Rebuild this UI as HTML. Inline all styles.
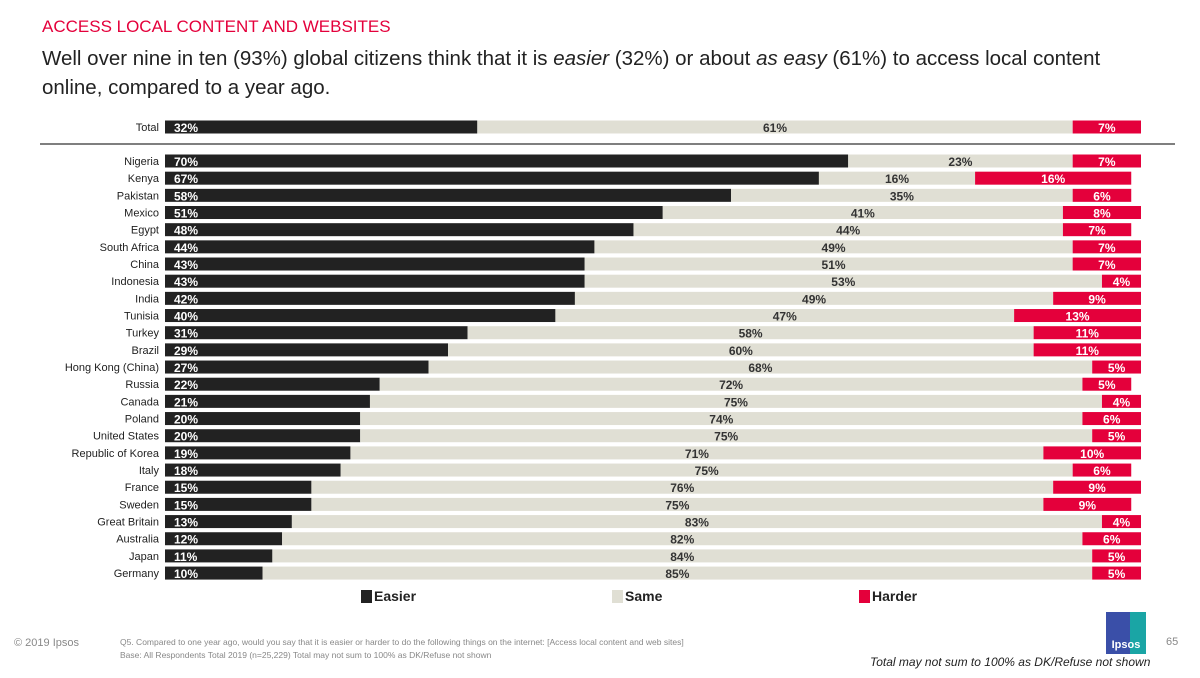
<!DOCTYPE html>
<html><head><meta charset="utf-8"><style>
body{margin:0;width:1200px;height:675px;background:#fff;overflow:hidden;font-family:"Liberation Sans",sans-serif;position:relative}
.abs{position:absolute}
</style></head><body>
<div class="abs" style="left:42px;top:17px;font-size:17px;color:#e4003b">ACCESS LOCAL CONTENT AND WEBSITES</div>
<div class="abs" style="left:42px;top:44px;width:1120px;font-size:20.5px;line-height:29px;color:#222">Well over nine in ten (93%) global citizens think that it is <i>easier</i> (32%) or about <i>as easy</i> (61%) to access local content online, compared to a year ago.</div>
<svg class="abs" style="left:0;top:0" width="1200" height="675" id="chart">
<line x1="40" y1="144" x2="1175" y2="144" stroke="#333" stroke-width="1.2"/>
</svg>
<div class="abs" style="left:14px;top:637px;font-size:11px;color:#888">© 2019 Ipsos</div>
<div class="abs" style="left:120px;top:636px;font-size:8.5px;line-height:13px;color:#888">Q5. Compared to one year ago, would you say that it is easier or harder to do the following things on the internet: [Access local content and web sites]<br>Base: All Respondents Total 2019 (n=25,229) Total may not sum to 100% as DK/Refuse not shown</div>
<div class="abs" style="left:1106px;top:612px;width:40px;height:42px;background:linear-gradient(90deg,#3a4fa8 60%,#1aa5a5 60%);color:#fff;font-size:11px;font-weight:bold;text-align:center;line-height:66px">Ipsos</div>
<div class="abs" style="left:1166px;top:636px;font-size:11px;color:#888">65</div>
<div class="abs" style="left:870px;top:655px;font-size:12px;font-style:italic;color:#222">Total may not sum to 100% as DK/Refuse not shown</div>
<script>
const categories=["Total","Nigeria","Kenya","Pakistan","Mexico","Egypt","South Africa","China","Indonesia","India","Tunisia","Turkey","Brazil","Hong Kong (China)","Russia","Canada","Poland","United States","Republic of Korea","Italy","France","Sweden","Great Britain","Australia","Japan","Germany"];
const easier=[32,70,67,58,51,48,44,43,43,42,40,31,29,27,22,21,20,20,19,18,15,15,13,12,11,10];
const same=[61,23,16,35,41,44,49,51,53,49,47,58,60,68,72,75,74,75,71,75,76,75,83,82,84,85];
const harder=[7,7,16,6,8,7,7,7,4,9,13,11,11,5,5,4,6,5,10,6,9,9,4,6,5,5];
const svg=document.getElementById('chart');
const NS='http://www.w3.org/2000/svg';
const x0=165,W=976;
function xs(v){return v/100*W;}
function yc(i){return i===0?127:161+(i-1)*17.17;}
function mk(tag,a){const e=document.createElementNS(NS,tag);for(const k in a)e.setAttribute(k,a[k]);svg.appendChild(e);return e;}
categories.forEach((c,i)=>{
  const y=yc(i),h=13;
  const t=mk('text',{x:159,y:y+4,'text-anchor':'end','font-size':11,fill:'#222'});t.textContent=c;
  
  
  const we=xs(easier[i]),ws=xs(same[i]);
  const wh=Math.min(xs(harder[i]),W-we-ws>0?Math.max(W-we-ws,0):xs(harder[i]));
  const hs=x0+we+ws;
  const hx=Math.min(hs, x0+W-xs(harder[i])>hs?hs:x0+W-xs(harder[i]));
  const hw=Math.min(xs(harder[i]),x0+W-hx);
  const r1=mk('rect',{x:x0,y:y-h/2,width:we,height:h,fill:'#222'});
  
  
  const r2=mk('rect',{x:x0+we,y:y-h/2,width:ws,height:h,fill:'#e0dfd4'});
  
  
  const r3=mk('rect',{x:hx,y:y-h/2,width:hw,height:h,fill:'#e4003b'});
  
  
  const l1=mk('text',{x:x0+9,y:y+5,'font-size':12,fill:'#fff','font-weight':'bold'});l1.textContent=easier[i]+'%';
  
  
  const l2=mk('text',{x:x0+we+ws/2,y:y+5,'font-size':12,fill:'#333','font-weight':'bold','text-anchor':'middle'});l2.textContent=same[i]+'%';
  
  
  const l3=mk('text',{x:hx+hw/2,y:y+5,'font-size':12,fill:'#fff','font-weight':'bold','text-anchor':'middle'});l3.textContent=harder[i]+'%';
  
  
});
const legend=[["Easier","#222",361],["Same","#e0dfd4",612],["Harder","#e4003b",859]];
legend.forEach(([n,c,x])=>{
  const r=mk('rect',{x:x,y:590,width:11,height:13,fill:c});
  
  
  const t=mk('text',{x:x+13,y:601,'font-size':14,'font-weight':'bold',fill:'#222'});t.textContent=n;
  
  
});
</script>
</body></html>
